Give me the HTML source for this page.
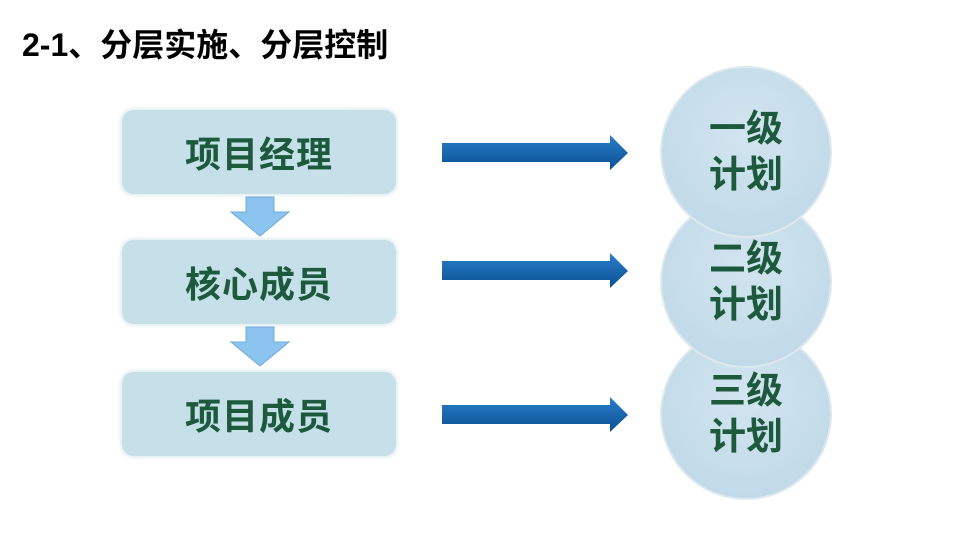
<!DOCTYPE html>
<html><head><meta charset="utf-8"><style>
body{margin:0;width:960px;height:540px;background:#fff;position:relative;overflow:hidden;font-family:"Liberation Sans","Noto Sans CJK SC",sans-serif}
.t{position:absolute;left:22px;top:20px;font-size:32px;font-weight:bold;color:#000}
.box{position:absolute;left:122px;width:274px;height:84px;border-radius:12px;background:#c5e0e8;box-shadow:0 0 3px 2px #e4eef2;display:flex;align-items:center;justify-content:center;font-size:36px;font-weight:bold;color:#1d5a3d;letter-spacing:1px}
.c{position:absolute;left:660px;width:172px;height:172px;border-radius:50%;background:radial-gradient(circle at 50% 40%,#d2e5f0,#bcd6e6);border:2px solid #dde9ef;box-sizing:border-box;display:flex;flex-direction:column;align-items:center;justify-content:center;font-size:37px;font-weight:bold;color:#1d5a3d;line-height:46px}
svg{position:absolute;left:0;top:0}
</style></head><body>
<div class="t">2-1、分层实施、分层控制</div>
<div class="box" style="top:110px">项目经理</div>
<div class="box" style="top:240px">核心成员</div>
<div class="box" style="top:372px">项目成员</div>
<div class="c" style="top:328px">三级<br>计划</div>
<div class="c" style="top:196px">二级<br>计划</div>
<div class="c" style="top:66px">一级<br>计划</div>
<svg width="960" height="540">
<defs><linearGradient id="g" x1="0" y1="0" x2="0" y2="1"><stop offset="0" stop-color="#2a7fc8"/><stop offset="1" stop-color="#0b4f94"/></linearGradient></defs>
<g fill="#8cc4f0" stroke="#6fa8d8" stroke-width="1">
<polygon points="246,197 274,197 274,212 289,212 260,236 231,212 246,212"/>
<polygon points="246,327 274,327 274,342 289,342 260,366 231,342 246,342"/>
</g>
<g fill="url(#g)">
<polygon points="442,143 610,143 610,135 628,153 610,170 610,162 442,162"/>
<polygon points="442,261 610,261 610,253 628,271 610,288 610,280 442,280"/>
<polygon points="442,405 610,405 610,397 628,415 610,432 610,424 442,424"/>
</g>
</svg>
</body></html>
